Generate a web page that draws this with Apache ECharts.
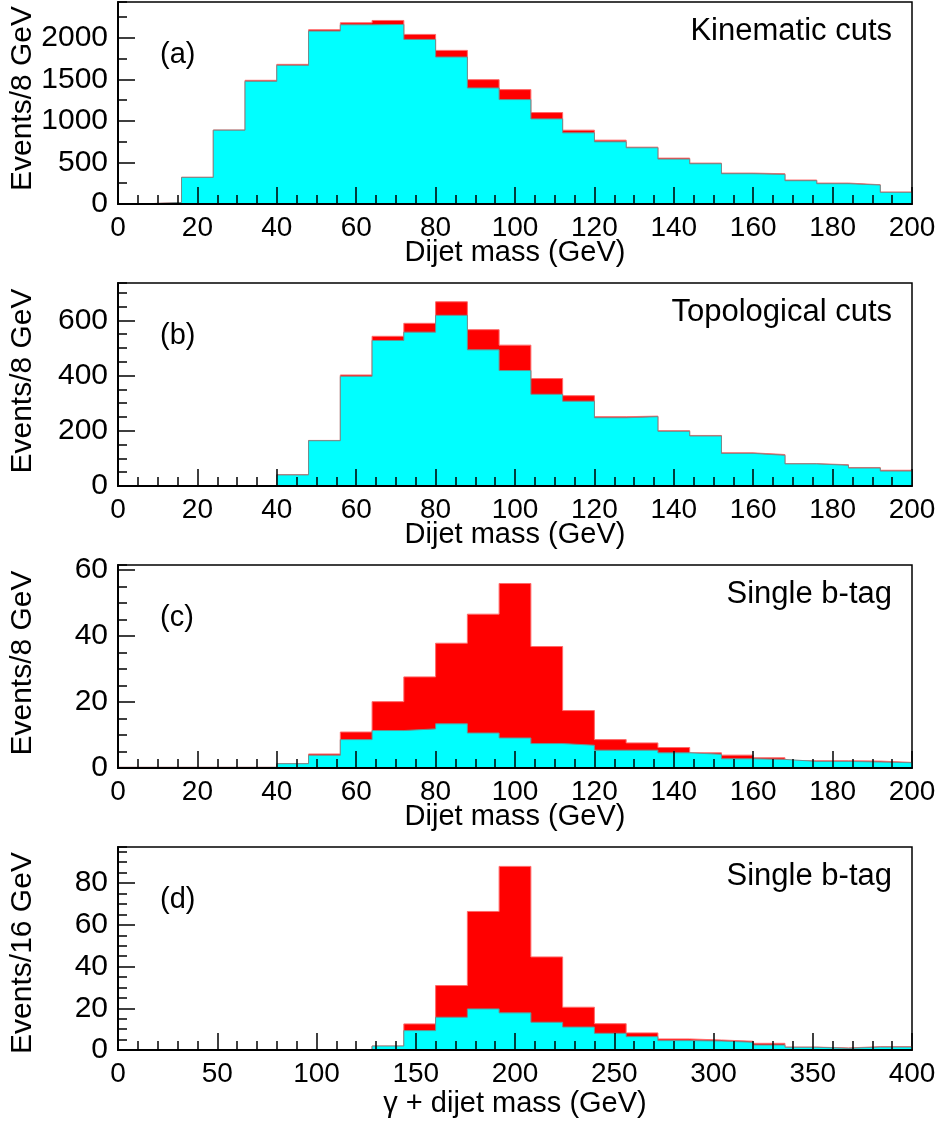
<!DOCTYPE html>
<html><head><meta charset="utf-8">
<script src="https://cdn.jsdelivr.net/npm/echarts@6/dist/echarts.min.js"></script>
<style>html,body{margin:0;padding:0;background:#fff}#c{width:943px;height:1124px}</style>
</head><body><div id="c"></div>
<script>
// ---- data ----
const binWidthABC = 8;   // GeV
const binWidthD = 16;    // GeV
// (a) Kinematic cuts
const bgA  = [4, 18, 320, 888, 1476, 1668, 2080, 2156, 2160, 1980, 1768, 1396, 1256, 1024, 856, 748, 676, 540, 484, 364, 356, 280, 244, 228, 140];
const totA = [4, 18, 322, 890, 1488, 1680, 2096, 2180, 2208, 2040, 1848, 1496, 1376, 1100, 888, 768, 684, 552, 492, 372, 364, 288, 252, 232, 144];
// (b) Topological cuts
const bgB  = [0, 0, 0, 0, 0, 40, 164, 397, 527, 557, 618, 493, 418, 332, 307, 247, 251, 198, 181, 118, 111, 80, 75, 65, 54];
const totB = [0, 0, 0, 0, 0, 41, 165, 402, 542, 589, 667, 566, 510, 389, 327, 251, 253, 200, 183, 120, 114, 81, 77, 67, 57];
// (c) Single b-tag, dijet mass
const bgC  = [0.2, 0.2, 0.2, 0.2, 0.2, 1.3, 3.85, 8.6, 11.35, 11.85, 13.4, 10.6, 9.1, 7.4, 6.9, 5.4, 5.4, 4.6, 4.15, 2.8, 2.6, 2.0, 2.0, 1.8, 1.6];
const totC = [0.2, 0.2, 0.2, 0.2, 0.2, 1.3, 4.25, 10.9, 20.1, 27.6, 37.8, 46.6, 55.9, 36.8, 17.4, 8.6, 7.6, 6.2, 4.6, 3.9, 3.1, 2.2, 2.2, 2.1, 1.7];
// (d) Single b-tag, gamma + dijet mass
const bgD  = [0.2, 0.2, 0.2, 0.2, 0.2, 0.2, 0.2, 0.2, 1.9, 9.3, 15.7, 19.7, 17.8, 13.3, 11.0, 8.0, 6.4, 4.5, 4.3, 3.7, 2.4, 1.3, 0.8, 1.4, 1.4];
const totD = [0.2, 0.2, 0.2, 0.2, 0.2, 0.2, 0.2, 0.2, 1.9, 12.5, 30.9, 66.4, 88.0, 44.6, 20.5, 12.6, 8.2, 5.3, 4.8, 4.2, 3.2, 1.4, 1.0, 1.6, 1.6];

const tags = ['(a)', '(b)', '(c)', '(d)'];
const cutLabels = ['Kinematic cuts', 'Topological cuts', 'Single b-tag', 'Single b-tag'];
const yNames = ['Events/8 GeV', 'Events/8 GeV', 'Events/8 GeV', 'Events/16 GeV'];
const xNames = ['Dijet mass (GeV)', 'Dijet mass (GeV)', 'Dijet mass (GeV)', '\u03b3 + dijet mass (GeV)'];
const xMaxs = [200, 200, 200, 400];
const xIntervals = [20, 20, 20, 50];
const xMinorSplits = [4, 4, 4, 5];
const yMaxs = [2430, 735, 61.5, 97.3];
const yIntervals = [500, 200, 20, 20];
const yMinorIntervals = [250, 50, 5, 5];

// ---- layout ----
const FONT = "'Liberation Sans', Arial, Helvetica, sans-serif";
const gridTops = [2, 283, 565, 847];
const gridHeights = [202, 203, 203, 203];
const gridLeft = 118, gridRight = 31;
const xNameGaps = [34, 34, 34, 39];
const yNamePads = [[0, 0, 0, 9], [0, 0, 0, 7], [0, 0, 0, 7], [0, 9, 0, 0]];

const panels = [
  {bg: bgA, tot: totA, w: binWidthABC},
  {bg: bgB, tot: totB, w: binWidthABC},
  {bg: bgC, tot: totC, w: binWidthABC},
  {bg: bgD, tot: totD, w: binWidthD}
];

// histogram as step points: left edge of every bin, plus the right edge of the last bin
function stepData(vals, w) {
  const pts = vals.map((v, i) => [i * w, v]);
  pts.push([vals.length * w, vals[vals.length - 1]]);
  return pts;
}

const grid = [], xAxis = [], yAxis = [], series = [], title = [];
for (let i = 0; i < 4; i++) {
  grid.push({left: gridLeft, right: gridRight, top: gridTops[i], height: gridHeights[i],
    containLabel: false, outerBoundsMode: 'none',
    show: true, borderColor: '#000', borderWidth: 1.5, backgroundColor: 'transparent'});
}
for (let i = 0; i < 4; i++) {
  // overlay grids carrying the minor y ticks
  grid.push({left: gridLeft, right: gridRight, top: gridTops[i], height: gridHeights[i],
    containLabel: false, outerBoundsMode: 'none', show: false});
}
for (let i = 0; i < 4; i++) {
  xAxis.push({
    type: 'value', gridIndex: i, min: 0, max: xMaxs[i], interval: xIntervals[i], z: 10,
    name: xNames[i], nameLocation: 'middle', nameGap: xNameGaps[i], nameMoveOverlap: false,
    nameTextStyle: {fontSize: 29, fontFamily: FONT, color: '#000'},
    axisLine: {show: true, onZero: false, lineStyle: {color: '#000', width: 2}},
    axisTick: {show: true, inside: true, length: 17, lineStyle: {color: '#000', width: 1.5}},
    minorTick: {show: true, splitNumber: xMinorSplits[i], length: 9, lineStyle: {color: '#000', width: 1.5}},
    axisLabel: {fontSize: 28, fontFamily: FONT, color: '#000', margin: 10, formatter: v => String(v)},
    splitLine: {show: false}, minorSplitLine: {show: false}
  });
}
for (let i = 0; i < 4; i++) {
  xAxis.push({type: 'value', gridIndex: 4 + i, min: 0, max: xMaxs[i], show: false});
}
for (let i = 0; i < 4; i++) {
  yAxis.push({
    type: 'value', gridIndex: i, min: 0, max: yMaxs[i], interval: yIntervals[i], z: 10,
    name: yNames[i], nameLocation: 'middle', nameGap: 80, nameRotate: 90, nameMoveOverlap: false,
    nameTextStyle: {fontSize: 30, fontFamily: FONT, color: '#000', padding: yNamePads[i]},
    axisLine: {show: true, onZero: false, lineStyle: {color: '#000', width: 2}},
    axisTick: {show: true, inside: true, length: 17, lineStyle: {color: '#000', width: 1.5}},
    axisLabel: {fontSize: 30, fontFamily: FONT, color: '#000', margin: 10, showMaxLabel: false,
      formatter: v => String(v)},
    splitLine: {show: false}
  });
}
for (let i = 0; i < 4; i++) {
  yAxis.push({
    type: 'value', gridIndex: 4 + i, min: 0, max: yMaxs[i], interval: yMinorIntervals[i], z: 10,
    axisLine: {show: false},
    axisTick: {show: true, inside: true, length: 9, lineStyle: {color: '#000', width: 1.5}},
    axisLabel: {show: false}, splitLine: {show: false}
  });
}
for (let i = 0; i < 4; i++) {
  const p = panels[i];
  series.push({type: 'line', name: 'signal + background', xAxisIndex: i, yAxisIndex: i, step: 'end',
    data: stepData(p.tot, p.w), symbol: 'none', silent: true, z: 2,
    lineStyle: {color: '#ff6a6a', width: 1}, areaStyle: {color: '#ff0000', opacity: 1}});
  series.push({type: 'line', name: 'background', xAxisIndex: i, yAxisIndex: i, step: 'end',
    data: stepData(p.bg, p.w), symbol: 'none', silent: true, z: 3,
    lineStyle: {color: '#6f8f8f', width: 1}, areaStyle: {color: '#00ffff', opacity: 1}});
  title.push({text: tags[i], left: 160, top: gridTops[i] + 38, padding: 0,
    textStyle: {fontSize: 29, fontWeight: 'normal', fontFamily: FONT, color: '#000'}});
  title.push({text: cutLabels[i], right: 51, top: gridTops[i] + 14, padding: 0,
    textStyle: {fontSize: 31, fontWeight: 'normal', fontFamily: FONT, color: '#000'}});
}

const chart = echarts.init(document.getElementById('c'), null, {renderer: 'canvas'});
chart.setOption({animation: false, backgroundColor: '#fff', title, grid, xAxis, yAxis, series});
</script>
</body></html>
